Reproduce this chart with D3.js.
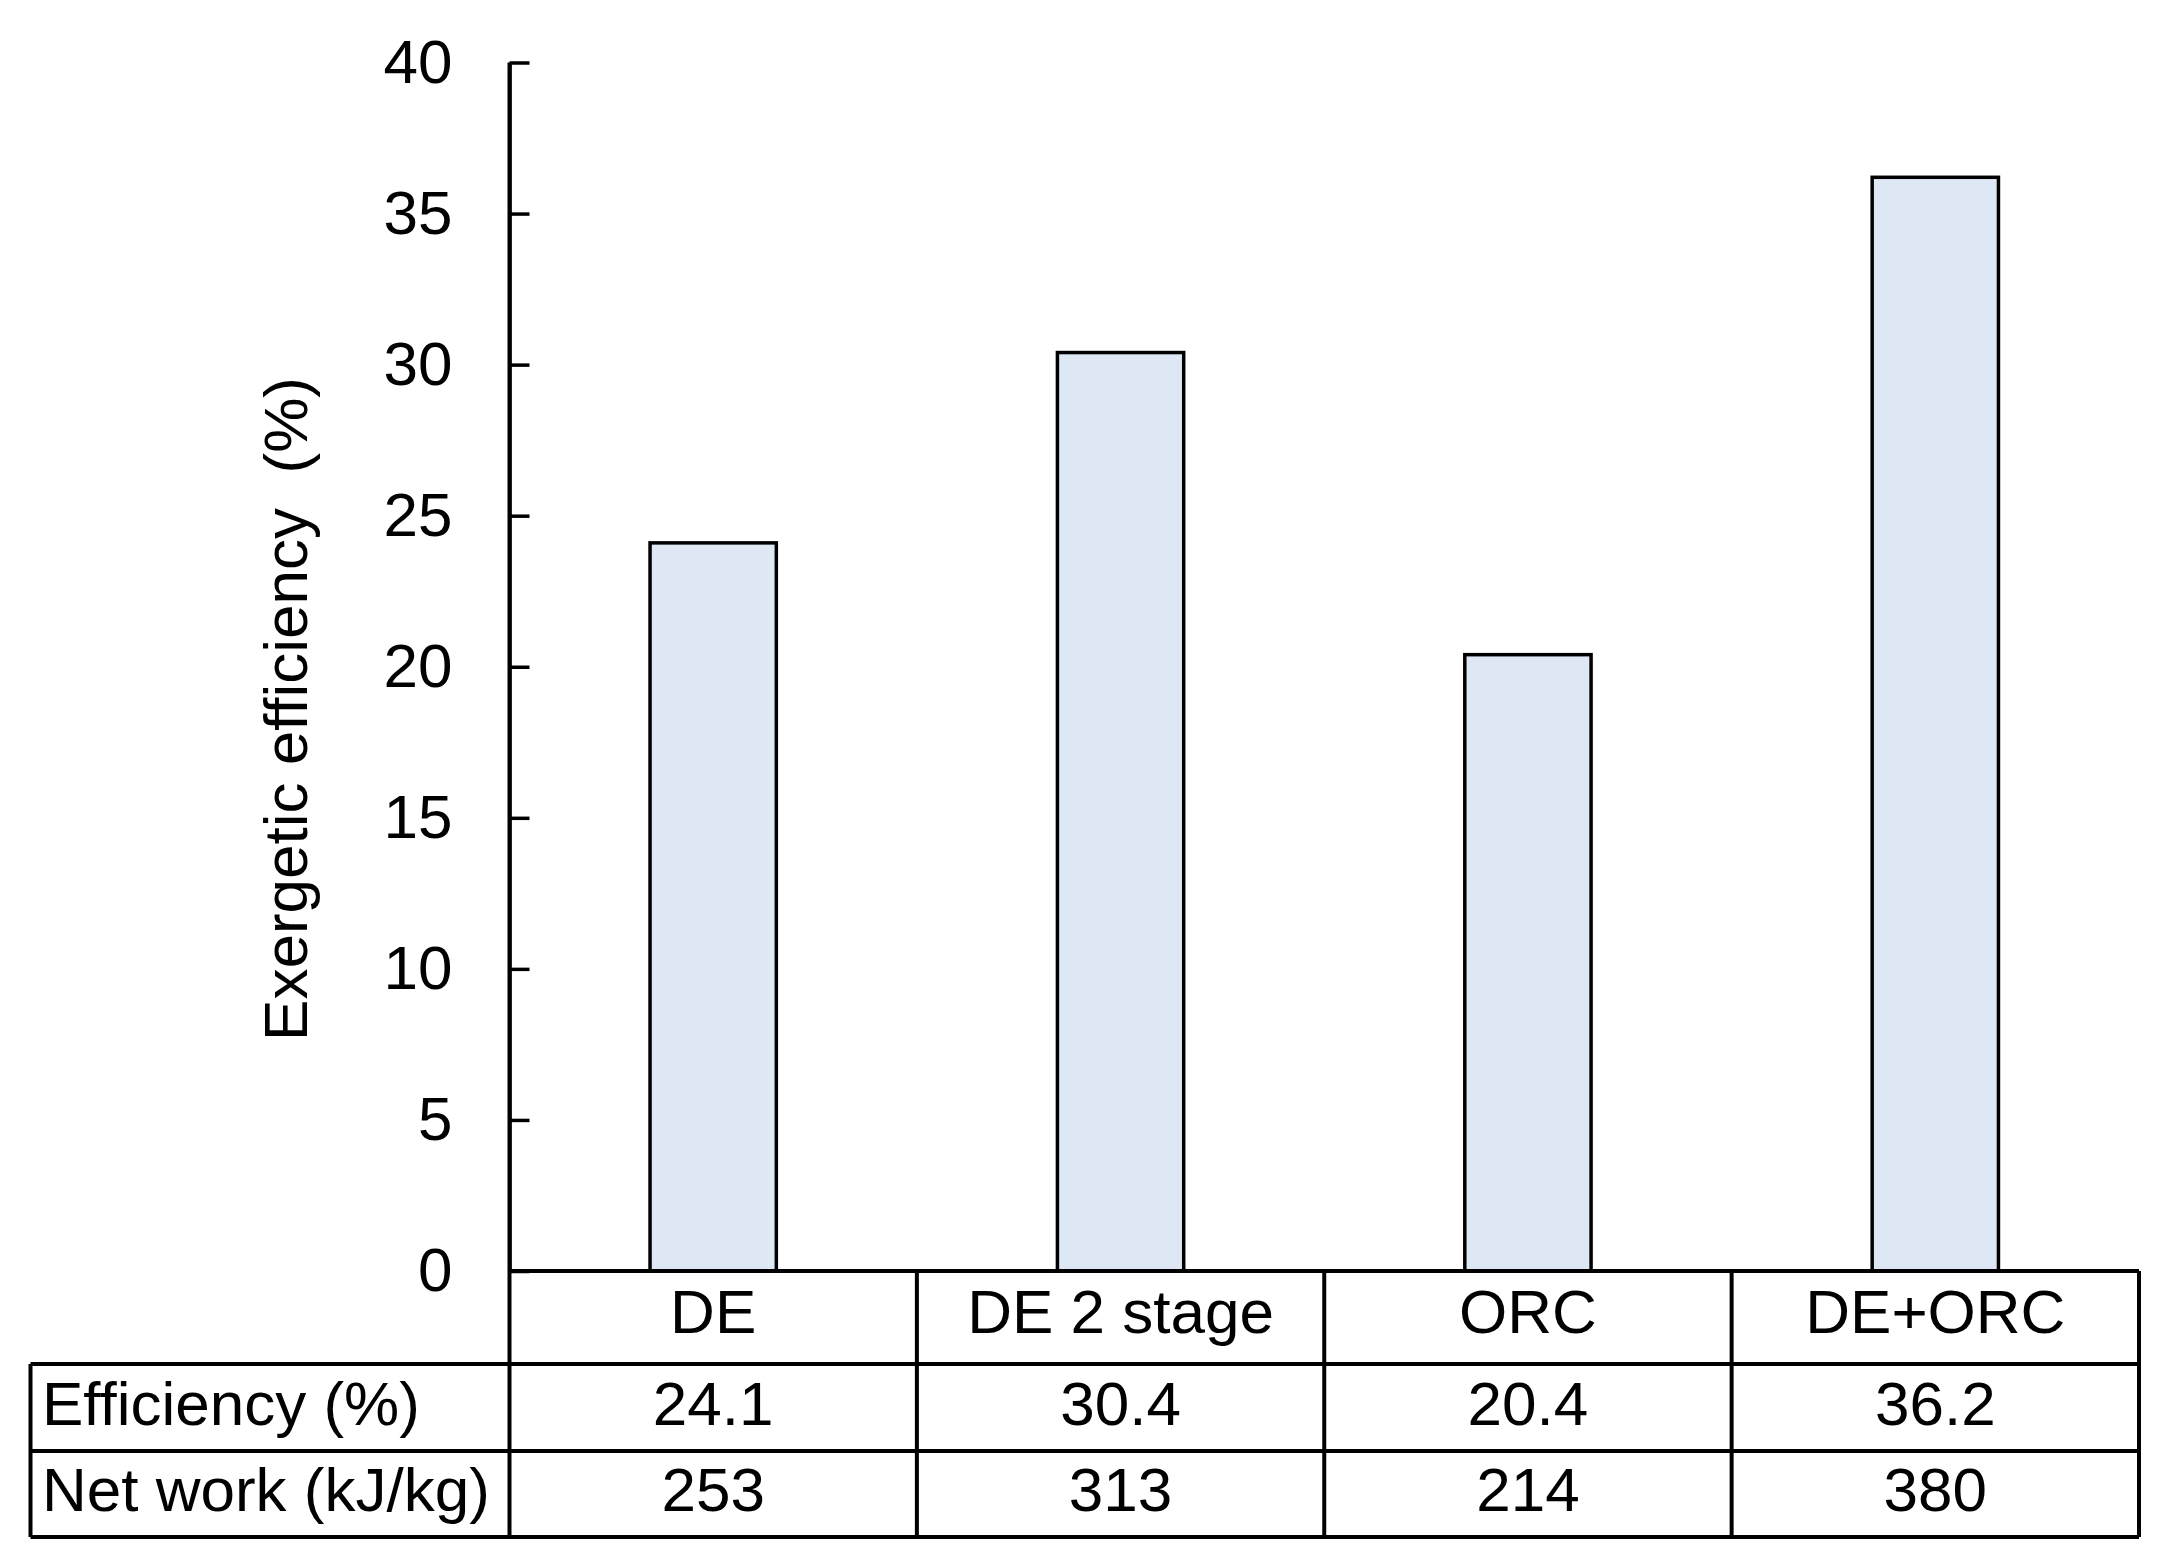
<!DOCTYPE html>
<html><head><meta charset="utf-8">
<script src="https://cdn.jsdelivr.net/npm/d3@7"></script>
<style>
html,body{margin:0;padding:0;background:#fff;}
svg{display:block;font-family:"Liberation Sans",Arial,sans-serif;}
</style></head>
<body>
<svg id="chart" width="2171" height="1565"></svg>
<script>
const categories = ["DE", "DE 2 stage", "ORC", "DE+ORC"];
const efficiency = [24.1, 30.4, 20.4, 36.2];
const netWork = [253, 313, 214, 380];
const efficiencyLabels = ["24.1", "30.4", "20.4", "36.2"];
const rowLabels = ["Efficiency (%)", "Net work (kJ/kg)"];
const yTicks = [0, 5, 10, 15, 20, 25, 30, 35, 40];
const yTitle = "Exergetic efficiency  (%)";

const svg = d3.select("#chart");
const axisX = 509.5, right = 2139, tableLeft = 30.5;
const yTop = 62.5, yBottom = 1271;
const rowLines = [1271, 1364, 1451, 1537];
const fs = 62;

const x = d3.scaleBand().domain(categories).range([axisX, right]).padding(0);
const y = d3.scaleLinear().domain([0, 40]).range([yBottom, yTop]);

// bars
const bw = x.bandwidth() * 0.31;
svg.append("g").selectAll("rect").data(categories).join("rect")
  .attr("x", d => x(d) + x.bandwidth()/2 - bw/2)
  .attr("y", (d,i) => y(efficiency[i]))
  .attr("width", bw)
  .attr("height", (d,i) => y(0) - y(efficiency[i]))
  .attr("fill", "#dde8f4")
  .attr("stroke", "#000")
  .attr("stroke-width", 3.5);

// y axis
const yAxis = d3.axisLeft(y).tickValues(yTicks).tickSizeInner(-20).tickSizeOuter(0).tickPadding(57);
const gy = svg.append("g").attr("transform", `translate(${axisX},0)`).call(yAxis);
gy.select(".domain").attr("stroke-width", 3.5);
gy.selectAll(".tick line").attr("stroke-width", 3.5);
gy.selectAll(".tick text").attr("font-size", fs).attr("fill", "#000")
  .attr("font-family", "Liberation Sans, Arial, sans-serif");

// y title
svg.append("text")
  .attr("transform", `translate(${285},${709}) rotate(-90)`)
  .attr("text-anchor", "middle").attr("dy", "0.35em")
  .attr("font-size", fs).attr("fill", "#000")
  .style("white-space", "pre")
  .text(yTitle);

// table lines
const tl = svg.append("g").attr("stroke", "#000").attr("stroke-width", 4).attr("fill", "none");
tl.append("line").attr("x1", axisX).attr("x2", right).attr("y1", rowLines[0]).attr("y2", rowLines[0]);
for (let k = 1; k < rowLines.length; k++) {
  tl.append("line").attr("x1", tableLeft).attr("x2", right).attr("y1", rowLines[k]).attr("y2", rowLines[k]);
}
tl.append("line").attr("x1", tableLeft).attr("x2", tableLeft).attr("y1", rowLines[1]).attr("y2", rowLines[3]);
tl.append("line").attr("x1", axisX).attr("x2", axisX).attr("y1", yTop).attr("y2", rowLines[3]);
categories.forEach(c => {
  const xe = x(c) + x.bandwidth();
  tl.append("line").attr("x1", xe).attr("x2", xe).attr("y1", rowLines[0]).attr("y2", rowLines[3]);
});

// table text
const tt = svg.append("g").attr("font-size", fs).attr("fill", "#000");
const baselines = [1333, 1425, 1511];
categories.forEach((c, i) => {
  const cx = x(c) + x.bandwidth()/2;
  tt.append("text").attr("x", cx).attr("y", baselines[0]).attr("text-anchor", "middle").text(c);
  tt.append("text").attr("x", cx).attr("y", baselines[1]).attr("text-anchor", "middle").text(efficiencyLabels[i]);
  tt.append("text").attr("x", cx).attr("y", baselines[2]).attr("text-anchor", "middle").text(netWork[i]);
});
rowLabels.forEach((r, k) => {
  tt.append("text").attr("x", 42).attr("y", baselines[k+1]).text(r);
});
</script>
</body></html>
